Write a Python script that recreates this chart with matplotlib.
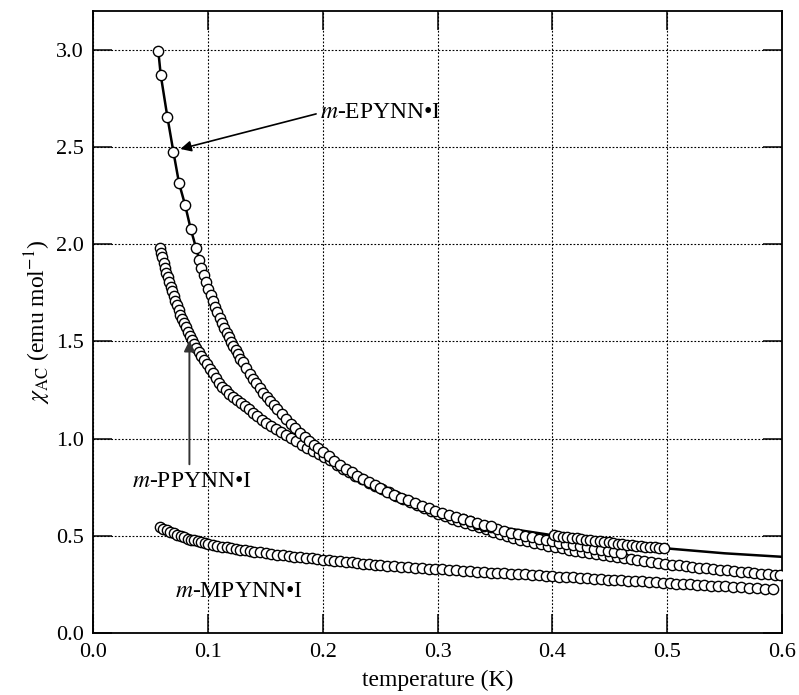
import matplotlib
matplotlib.use("Agg")
import matplotlib.pyplot as plt

plt.rcParams['font.family'] = ['Liberation Serif', 'DejaVu Serif']
plt.rcParams['mathtext.fontset'] = 'stix'

# ---------------- data ----------------
# m-EPYNN.I : sparse low-temperature points
T_E_low = [0.0565, 0.0586, 0.0644, 0.0696, 0.0746, 0.0798, 0.0848, 0.0894]
chi_E_low = [2.994, 2.871, 2.655, 2.477, 2.313, 2.203, 2.077, 1.981]

# m-EPYNN.I : dense sweep
T_E_mid = [0.092, 0.094, 0.096, 0.098, 0.100, 0.102, 0.104, 0.106, 0.108, 0.110,
           0.112, 0.114, 0.116, 0.118, 0.120, 0.122, 0.124, 0.126, 0.128, 0.130,
           0.133, 0.136, 0.139, 0.142, 0.145, 0.148, 0.151, 0.154, 0.157, 0.160,
           0.164, 0.168, 0.172, 0.176, 0.180, 0.184, 0.188, 0.192, 0.196, 0.200,
           0.205, 0.210, 0.215, 0.220, 0.225, 0.230, 0.235, 0.240, 0.245, 0.250,
           0.256, 0.262, 0.268, 0.274, 0.280, 0.286, 0.292, 0.298, 0.304, 0.310,
           0.316, 0.322, 0.328, 0.334, 0.340, 0.346]
chi_E_mid = [1.917, 1.878, 1.841, 1.806, 1.772, 1.740, 1.709, 1.679, 1.650, 1.623,
             1.596, 1.570, 1.545, 1.521, 1.498, 1.475, 1.454, 1.433, 1.412, 1.392,
             1.363, 1.335, 1.309, 1.284, 1.260, 1.237, 1.214, 1.192, 1.171, 1.151,
             1.125, 1.100, 1.076, 1.053, 1.031, 1.010, 0.989, 0.969, 0.950, 0.931,
             0.909, 0.887, 0.866, 0.846, 0.827, 0.809, 0.792, 0.775, 0.759, 0.744,
             0.727, 0.711, 0.696, 0.682, 0.668, 0.655, 0.642, 0.630, 0.618, 0.607,
             0.596, 0.586, 0.576, 0.566, 0.557, 0.548]

# m-EPYNN.I : high-temperature sweep
T_E_high = [0.401, 0.405, 0.409, 0.413, 0.417, 0.421, 0.425, 0.429, 0.433, 0.437,
            0.441, 0.445, 0.449, 0.453, 0.457, 0.461, 0.465, 0.469, 0.473, 0.477,
            0.481, 0.485, 0.489, 0.493, 0.497]
chi_E_high = [0.503, 0.499, 0.496, 0.493, 0.490, 0.487, 0.484, 0.481, 0.478, 0.475,
              0.472, 0.469, 0.466, 0.463, 0.460, 0.458, 0.455, 0.452, 0.450, 0.447,
              0.445, 0.442, 0.440, 0.437, 0.435]

# m-EPYNN.I : second sweep overlapping the middle band
T_E_run2 = [0.322, 0.328, 0.334, 0.340, 0.346, 0.352, 0.358, 0.364, 0.370, 0.376,
            0.382, 0.388, 0.394, 0.400, 0.406, 0.412, 0.418, 0.424, 0.430, 0.436,
            0.442, 0.448, 0.454, 0.460]
chi_E_run2 = [0.585, 0.574, 0.563, 0.553, 0.543, 0.534, 0.525, 0.516, 0.508, 0.500,
              0.492, 0.485, 0.478, 0.471, 0.464, 0.458, 0.452, 0.446, 0.440, 0.434,
              0.428, 0.422, 0.416, 0.410]

# m-EPYNN.I : fit curve
T_fit = [0.0565, 0.0586, 0.0644, 0.0696, 0.0746, 0.0798, 0.0848, 0.0894, 0.095, 0.100,
         0.110, 0.120, 0.130, 0.140, 0.150, 0.165, 0.180, 0.200, 0.220, 0.250,
         0.280, 0.300, 0.330, 0.350, 0.400, 0.450, 0.500, 0.550, 0.600]
chi_fit = [2.994, 2.871, 2.655, 2.477, 2.313, 2.203, 2.077, 1.981, 1.860, 1.772,
           1.623, 1.498, 1.392, 1.300, 1.225, 1.112, 1.031, 0.931, 0.846, 0.744,
           0.668, 0.622, 0.572, 0.548, 0.503, 0.466, 0.435, 0.410, 0.392]

# m-PPYNN.I
T_P = [0.0580, 0.0590, 0.0600, 0.0612, 0.0624, 0.0636, 0.0648, 0.0660, 0.0673, 0.0686,
       0.0700, 0.0714, 0.0728, 0.0743, 0.0758, 0.0773, 0.0789, 0.0805, 0.0822, 0.0840,
       0.0858, 0.0877, 0.0897, 0.0918, 0.0940, 0.0963, 0.0987, 0.1012, 0.1038, 0.1065,
       0.1093, 0.1122, 0.1152, 0.1183, 0.1215, 0.1248, 0.1282, 0.1317, 0.1353, 0.1390,
       0.1428, 0.1467, 0.1507, 0.1548, 0.1590, 0.1633, 0.1677, 0.1722, 0.1768, 0.1815,
       0.1863, 0.1912, 0.1962, 0.2013, 0.2065, 0.2118, 0.2172, 0.2227, 0.2283, 0.2340,
       0.2398, 0.2457, 0.2517, 0.2578, 0.264, 0.270, 0.276, 0.282, 0.288, 0.294,
       0.300, 0.306, 0.312, 0.318, 0.324, 0.330, 0.336, 0.342, 0.348, 0.354,
       0.360, 0.366, 0.372, 0.378, 0.384, 0.390, 0.396, 0.402, 0.408, 0.414,
       0.420, 0.426, 0.432, 0.438, 0.444, 0.450, 0.456, 0.462, 0.468, 0.474,
       0.480, 0.486, 0.492, 0.498, 0.504, 0.510, 0.516, 0.522, 0.528, 0.534,
       0.540, 0.546, 0.552, 0.558, 0.564, 0.570, 0.576, 0.582, 0.588, 0.594, 0.598]
chi_P = [1.979, 1.955, 1.932, 1.905, 1.879, 1.854, 1.830, 1.806, 1.781, 1.757,
         1.732, 1.708, 1.685, 1.661, 1.638, 1.616, 1.594, 1.572, 1.550, 1.529,
         1.508, 1.487, 1.466, 1.447, 1.426, 1.405, 1.383, 1.360, 1.336, 1.311,
         1.288, 1.268, 1.250, 1.232, 1.214, 1.197, 1.182, 1.166, 1.150, 1.133,
         1.115, 1.097, 1.079, 1.064, 1.049, 1.034, 1.018, 1.002, 0.986, 0.969,
         0.954, 0.938, 0.922, 0.906, 0.889, 0.865, 0.846, 0.828, 0.810, 0.792,
         0.774, 0.757, 0.740, 0.723, 0.705, 0.689, 0.673, 0.658, 0.643, 0.628,
         0.614, 0.601, 0.589, 0.577, 0.566, 0.555, 0.545, 0.535, 0.520, 0.509,
         0.499, 0.490, 0.481, 0.472, 0.464, 0.456, 0.449, 0.442, 0.435, 0.429,
         0.423, 0.417, 0.411, 0.405, 0.399, 0.394, 0.389, 0.384, 0.379, 0.374,
         0.369, 0.364, 0.360, 0.356, 0.352, 0.348, 0.344, 0.340, 0.336, 0.332,
         0.329, 0.325, 0.322, 0.319, 0.316, 0.312, 0.309, 0.306, 0.303, 0.300, 0.298]

# m-MPYNN.I
T_M = [0.058, 0.061, 0.064, 0.067, 0.070, 0.073, 0.076, 0.079, 0.082, 0.085,
       0.088, 0.091, 0.094, 0.097, 0.100, 0.104, 0.108, 0.112, 0.116, 0.120,
       0.124, 0.128, 0.132, 0.136, 0.140, 0.145, 0.150, 0.155, 0.160, 0.165,
       0.170, 0.175, 0.180, 0.185, 0.190, 0.195, 0.200, 0.205, 0.210, 0.215,
       0.220, 0.225, 0.230, 0.235, 0.240, 0.245, 0.250, 0.256, 0.262, 0.268,
       0.274, 0.280, 0.286, 0.292, 0.298, 0.304, 0.310, 0.316, 0.322, 0.328,
       0.334, 0.340, 0.346, 0.352, 0.358, 0.364, 0.370, 0.376, 0.382, 0.388,
       0.394, 0.400, 0.406, 0.412, 0.418, 0.424, 0.430, 0.436, 0.442, 0.448,
       0.454, 0.460, 0.466, 0.472, 0.478, 0.484, 0.490, 0.496, 0.502, 0.508,
       0.514, 0.520, 0.526, 0.532, 0.538, 0.544, 0.550, 0.557, 0.564, 0.571,
       0.578, 0.585, 0.592]
chi_M = [0.546, 0.537, 0.528, 0.520, 0.512, 0.505, 0.498, 0.492, 0.486, 0.481,
         0.476, 0.471, 0.467, 0.463, 0.459, 0.454, 0.449, 0.445, 0.441, 0.437,
         0.433, 0.429, 0.425, 0.422, 0.419, 0.415, 0.411, 0.407, 0.403, 0.400,
         0.397, 0.393, 0.390, 0.387, 0.384, 0.381, 0.378, 0.375, 0.372, 0.369,
         0.366, 0.363, 0.360, 0.357, 0.355, 0.352, 0.349, 0.346, 0.343, 0.341,
         0.338, 0.336, 0.334, 0.331, 0.329, 0.327, 0.324, 0.322, 0.320, 0.318,
         0.316, 0.313, 0.311, 0.309, 0.307, 0.305, 0.303, 0.301, 0.298, 0.296,
         0.294, 0.292, 0.290, 0.288, 0.286, 0.284, 0.282, 0.279, 0.277, 0.275,
         0.273, 0.271, 0.269, 0.267, 0.265, 0.263, 0.261, 0.258, 0.256, 0.254,
         0.252, 0.250, 0.248, 0.246, 0.244, 0.242, 0.240, 0.238, 0.235, 0.233,
         0.230, 0.227, 0.224]

x_ticks = [0.0, 0.1, 0.2, 0.3, 0.4, 0.5, 0.6]
y_ticks = [0.0, 0.5, 1.0, 1.5, 2.0, 2.5, 3.0]

# ---------------- figure ----------------
fig = plt.figure(figsize=(7.99, 6.95), dpi=100)
ax = fig.add_axes([0.117, 0.0892, 0.8617, 0.895])

mk = dict(linestyle='none', marker='o', markersize=7.4, markerfacecolor='white',
          markeredgecolor='black', markeredgewidth=1.0, zorder=3)

ax.plot(T_fit, chi_fit, color='black', lw=1.8, zorder=2)
ax.plot(T_M, chi_M, **mk)
ax.plot(T_P, chi_P, **mk)
ax.plot(T_E_run2, chi_E_run2, **mk)
ax.plot(T_E_mid, chi_E_mid, **mk)
ax.plot(T_E_high, chi_E_high, **mk)
ax.plot(T_E_low, chi_E_low, **mk)

ax.set_xlim(0, 0.6)
ax.set_ylim(0, 3.2)
ax.set_xticks(x_ticks)
ax.set_yticks(y_ticks)
ax.set_xticklabels([f"{v:.1f}" for v in x_ticks])
ax.set_yticklabels([f"{v:.1f}" for v in y_ticks])
ax.tick_params(direction='in', length=14, width=1.1, top=True, right=True,
               labelsize=16, pad=7)
for s in ax.spines.values():
    s.set_linewidth(1.3)
ax.set_axisbelow(True)
ax.grid(True, color='black', linestyle=(0, (1.6, 1.6)), linewidth=0.8)

ax.set_xlabel("temperature (K)", fontsize=17, labelpad=6)
ax.set_ylabel(r"$\chi_{\rm AC}$ (emu mol$^{-1}$)", fontsize=17, labelpad=2)

ax.annotate(r"$m$-EPYNN•I", xy=(0.0757, 2.49), xytext=(0.1976, 2.676),
            fontsize=17, ha='left', va='center', zorder=5,
            arrowprops=dict(arrowstyle='-|>', color='black', lw=1.2,
                            mutation_scale=16, shrinkA=1, shrinkB=0,
                            relpos=(0.0, 0.5)))
ax.annotate('', xy=(0.0836, 1.505), xytext=(0.0836, 0.868),
            arrowprops=dict(arrowstyle='-|>', color='#333333', lw=1.4,
                            mutation_scale=16, shrinkA=0, shrinkB=0), zorder=5)
ax.text(0.0333, 0.777, r"$m$-PPYNN•I", fontsize=17, ha='left', va='center')
ax.text(0.0711, 0.212, r"$m$-MPYNN•I", fontsize=17, ha='left', va='center')

fig.savefig("out.png", dpi=100)
